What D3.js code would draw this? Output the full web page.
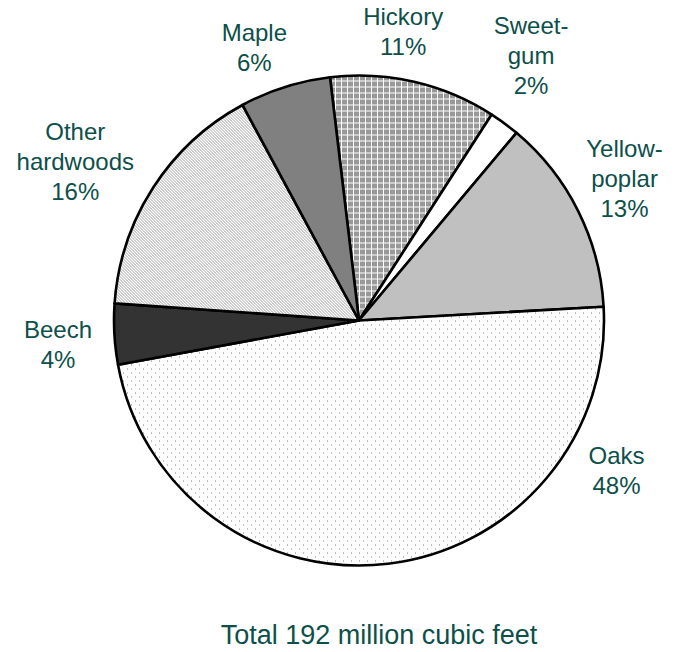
<!DOCTYPE html>
<html>
<head>
<meta charset="utf-8">
<script src="https://cdn.jsdelivr.net/npm/d3@7"></script>
<style>
html,body{margin:0;padding:0;background:#fff;}
svg{display:block;}
</style>
</head>
<body>
<svg id="chart" width="681" height="652"></svg>
<script>
// ---- data ----
const categories = ["Hickory", "Sweetgum", "Yellow-poplar", "Oaks", "Beech", "Other hardwoods", "Maple"];
const shares = [11, 2, 13, 48, 4, 16, 6];
const labelLines = [
  ["Hickory", "11%"],
  ["Sweet-", "gum", "2%"],
  ["Yellow-", "poplar", "13%"],
  ["Oaks", "48%"],
  ["Beech", "4%"],
  ["Other", "hardwoods", "16%"],
  ["Maple", "6%"]
];
const totalLabel = "Total 192 million cubic feet";

// ---- layout / style (separate from data) ----
const fills = ["url(#pHickory)", "#ffffff", "#c0c0c0", "url(#pOaks)", "#333333", "url(#pOther)", "#808080"];
// label placement in polar terms: [angle deg clockwise from north, radius]
const labelPolar = [[8.7, 292], [33.0, 316], [61.9, 301], [120.2, 298], [265.4, 302], [299.2, 325], [-21.0, 292]];
const cx = 359, cy = 320.5, R = 245;
const textColor = "#0d4f4a";
const lineH = 30;

const svg = d3.select("#chart");
const defs = svg.append("defs");

// Oaks: dotted
const pO = defs.append("pattern").attr("id", "pOaks").attr("patternUnits", "userSpaceOnUse")
  .attr("width", 8).attr("height", 8);
pO.append("rect").attr("width", 8).attr("height", 8).attr("fill", "#fff");
pO.append("rect").attr("x", 0).attr("y", 0).attr("width", 1).attr("height", 1).attr("fill", "#7a7a7a");
pO.append("rect").attr("x", 4).attr("y", 4).attr("width", 1).attr("height", 1).attr("fill", "#7a7a7a");

// Hickory: gray with white grid
const pH = defs.append("pattern").attr("id", "pHickory").attr("patternUnits", "userSpaceOnUse")
  .attr("width", 6).attr("height", 6);
pH.append("rect").attr("width", 6).attr("height", 6).attr("fill", "#999999");
pH.append("rect").attr("x", 0).attr("y", 0).attr("width", 6).attr("height", 1).attr("fill", "#ffffff");
pH.append("rect").attr("x", 0).attr("y", 0).attr("width", 1).attr("height", 6).attr("fill", "#ffffff");

// Other hardwoods: fine diagonal lines "\"
const pT = defs.append("pattern").attr("id", "pOther").attr("patternUnits", "userSpaceOnUse")
  .attr("width", 3).attr("height", 3);
pT.append("rect").attr("width", 3).attr("height", 3).attr("fill", "#fff");
pT.append("path").attr("d", "M-1,-1 L4,4 M-1,2 L1,4 M2,-1 L4,1")
  .attr("stroke", "#a0a0a0").attr("stroke-width", 1);

const data = categories.map((c, i) => ({ name: c, value: shares[i], i }));

const startDeg = -6.8;
const pie = d3.pie().sort(null).value(d => d.value)
  .startAngle(startDeg * Math.PI / 180)
  .endAngle((startDeg + 360) * Math.PI / 180);
const arc = d3.arc().innerRadius(0).outerRadius(R);

const g = svg.append("g").attr("transform", `translate(${cx},${cy})`);
g.selectAll("path.slice").data(pie(data)).join("path")
  .attr("class", "slice")
  .attr("d", arc)
  .attr("fill", d => fills[d.data.i])
  .attr("stroke", "#000")
  .attr("stroke-width", 2.6)
  .attr("stroke-linejoin", "round");

// labels
const font = "'Liberation Sans', Arial, sans-serif";
data.forEach((d, i) => {
  const [ang, rad] = labelPolar[i];
  const a = ang * Math.PI / 180;
  const lx = cx + rad * Math.sin(a);
  const ly = cy - rad * Math.cos(a);
  const lines = labelLines[i];
  const first = ly - (lines.length - 1) * lineH / 2 + 8.5;
  const t = svg.append("text")
    .attr("text-anchor", "middle")
    .attr("font-family", font)
    .attr("font-size", 24)
    .attr("fill", textColor);
  lines.forEach((ln, k) => {
    t.append("tspan").attr("x", lx).attr("y", first + k * lineH).text(ln);
  });
});

svg.append("text")
  .attr("x", 379).attr("y", 644)
  .attr("text-anchor", "middle")
  .attr("font-family", font)
  .attr("font-size", 27)
  .attr("fill", textColor)
  .text(totalLabel);
</script>
</body>
</html>
